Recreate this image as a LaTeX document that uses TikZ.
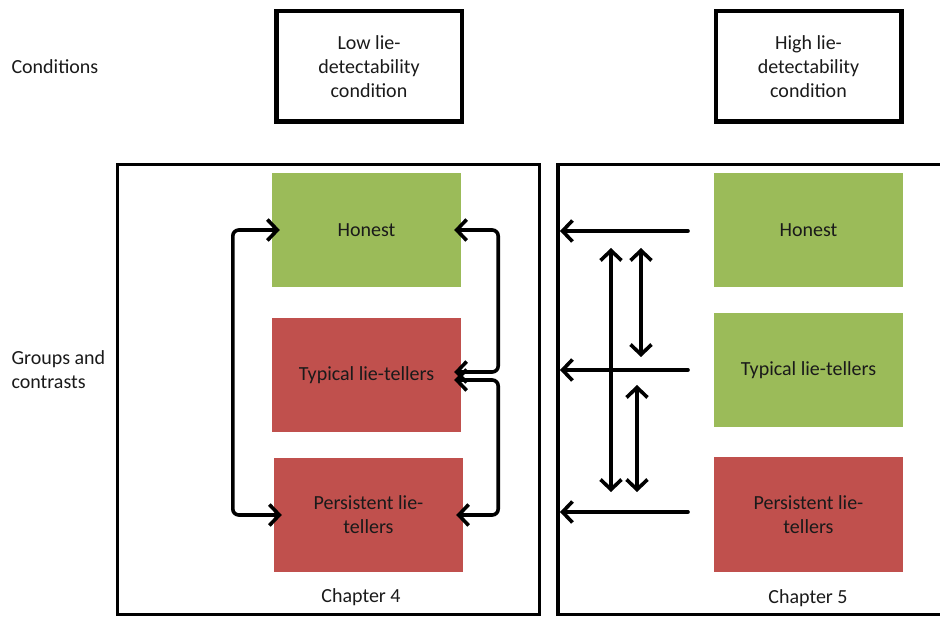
\documentclass[tikz,border=0pt]{standalone}
\usepackage{fontspec}
\setmainfont{Carlito}
\usetikzlibrary{arrows.meta}
\definecolor{grpgreen}{HTML}{9BBB59}
\definecolor{grpred}{HTML}{C0504D}
\definecolor{txt}{HTML}{1A1A1A}
\tikzset{
  grp/.style={minimum width=189pt, minimum height=114pt, align=center, inner sep=0pt},
  cond/.style={draw, line width=4.5pt, minimum width=185.5pt, minimum height=110.5pt, align=center},
  barb/.tip={Straight Barb[length=10pt,width=21pt]},
  twoway/.style={line width=3.6pt, barb-barb, line cap=round, line join=round},
  oneway/.style={line width=3.6pt, -barb, line cap=round, line join=round}
}
\begin{document}
\begin{tikzpicture}[x=1pt, y=-1pt, font=\fontsize{20}{24}\selectfont, text=txt]
        \useasboundingbox (0,0) rectangle (940,617);
        % row labels
        \node[anchor=west] (condlbl) at (8,67) {Conditions};
        \node[anchor=west, align=left] (grplbl) at (8,370) {Groups and\\contrasts};
        % conditions
        \node[cond] (lowC) at (369,66.5) {Low lie-\\detectability\\condition};
        \node[cond] (highC) at (808.5,66.5) {High lie-\\detectability\\condition};
        % chapter frames
        \draw[line width=3.4pt] (117.5,164.5) rectangle (539.5,614.5);
        \draw[line width=3.4pt] (945,164.5) -- (558,164.5) -- (558,614.5) -- (945,614.5);
        % chapter 4 groups
        \node[grp, fill=grpgreen] (honestL) at (366.5,230) {Honest};
        \node[grp, fill=grpred] (typL) at (366.5,375) {Typical lie-tellers};
        \node[grp, fill=grpred] (persL) at (368.5,515) {Persistent lie-\\tellers};
        \node (ch4) at (361,597) {Chapter 4};
        % chapter 5 groups
        \node[grp, fill=grpgreen] (honestR) at (808.5,230) {Honest};
        \node[grp, fill=grpgreen] (typR) at (808.5,370) {Typical lie-tellers};
        \node[grp, fill=grpred] (persR) at (808.5,514.5) {Persistent lie-\\tellers};
        \node (ch5) at (808,598) {Chapter 5};
        % chapter 4 contrasts
        \draw[twoway, rounded corners=6pt, shorten <=-8pt, shorten >=-8pt]
            (honestL.west) -- ++(-39,0) |- (persL.west);
        \draw[twoway, rounded corners=6pt, shorten <=-7pt, shorten >=-7pt]
            (honestL.east) -- ++(37,0) |- ([yshift=3pt]typL.east);
        \draw[twoway, rounded corners=6pt, shorten <=-7pt, shorten >=-7pt]
            ([yshift=-5pt]typL.east) -- ++(37,0) |- (persL.east);
        % chapter 5 contrasts
        \coordinate (hA) at (688,231);  \coordinate (hB) at (560,231);
        \coordinate (tA) at (688,370);  \coordinate (tB) at (560,370);
        \coordinate (pA) at (688,512);  \coordinate (pB) at (560,512);
        \draw[oneway] (hA) -- (hB);
        \draw[oneway] (tA) -- (tB);
        \draw[oneway] (pA) -- (pB);
        \coordinate (v1a) at (611,248); \coordinate (v1b) at (611,492);
        \coordinate (v2a) at (641,248); \coordinate (v2b) at (641,357);
        \coordinate (v3a) at (637,385); \coordinate (v3b) at (637,492);
        \draw[twoway] (v1a) -- (v1b);
        \draw[twoway] (v2a) -- (v2b);
        \draw[twoway] (v3a) -- (v3b);
    \end{tikzpicture}
\end{document}
